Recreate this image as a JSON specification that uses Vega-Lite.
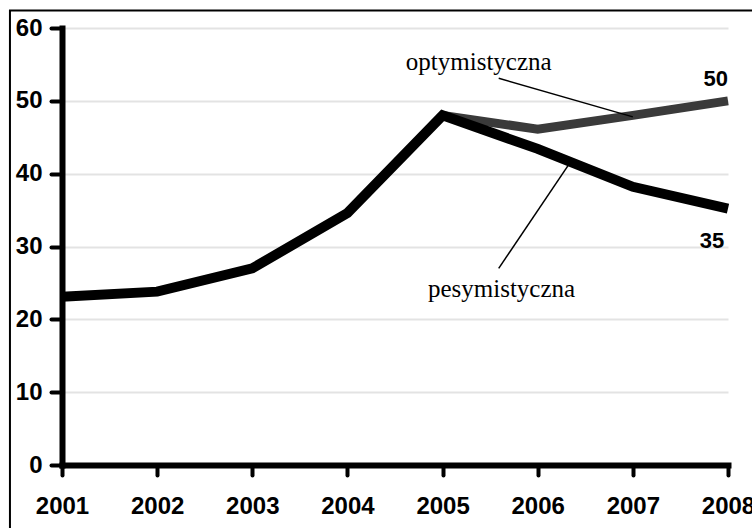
{
  "$schema": "https://vega.github.io/schema/vega-lite/v6.json",
  "width": 666,
  "height": 437,
  "autosize": {"type": "none"},
  "padding": {"left": 62, "top": 28, "right": 24, "bottom": 63},
  "background": "white",
  "config": {"view": {"stroke": null}, "font": "Liberation Sans"},
  "datasets": {
    "series": [
      {"year": 2001, "value": 23.1, "scenario": "pesymistyczna"},
      {"year": 2002, "value": 23.8, "scenario": "pesymistyczna"},
      {"year": 2003, "value": 27.0, "scenario": "pesymistyczna"},
      {"year": 2004, "value": 34.6, "scenario": "pesymistyczna"},
      {"year": 2005, "value": 48.0, "scenario": "pesymistyczna"},
      {"year": 2006, "value": 43.4, "scenario": "pesymistyczna"},
      {"year": 2007, "value": 38.2, "scenario": "pesymistyczna"},
      {"year": 2008, "value": 35.2, "scenario": "pesymistyczna"},
      {"year": 2005, "value": 48.0, "scenario": "optymistyczna"},
      {"year": 2006, "value": 46.1, "scenario": "optymistyczna"},
      {"year": 2007, "value": 48.0, "scenario": "optymistyczna"},
      {"year": 2008, "value": 50.0, "scenario": "optymistyczna"}
    ],
    "names": [
      {"year": 2005.38, "value": 54.3, "label": "optymistyczna"},
      {"year": 2005.62, "value": 23.1, "label": "pesymistyczna"}
    ],
    "leaders": [
      {"year": 2005.59, "value": 53.1, "year2": 2007.0, "value2": 47.8},
      {"year": 2005.59, "value": 27.0, "year2": 2006.37, "value2": 42.1}
    ],
    "ends": [
      {"year": 2008, "value": 52.0, "label": "50"},
      {"year": 2007.96, "value": 29.8, "label": "35"}
    ]
  },
  "layer": [
    {
      "data": {"name": "series"},
      "transform": [{"filter": "datum.scenario === 'optymistyczna'"}],
      "mark": {"type": "line", "color": "#3a3a3a", "strokeWidth": 9},
      "encoding": {
        "x": {
          "field": "year", "type": "quantitative",
          "scale": {"domain": [2001, 2008], "nice": false, "zero": false},
          "axis": {
            "title": null, "values": [2001, 2002, 2003, 2004, 2005, 2006, 2007, 2008],
            "format": "d", "grid": false,
            "domainColor": "black", "domainWidth": 6, "domainCap": "square",
            "tickColor": "black", "tickWidth": 4, "tickSize": 10, "tickCap": "round",
            "labelFontSize": 24, "labelFontWeight": "bold", "labelColor": "black",
            "labelPadding": 19, "labelFlush": false, "labelOverlap": false
          }
        },
        "y": {
          "field": "value", "type": "quantitative",
          "scale": {"domain": [0, 60], "nice": false},
          "axis": {
            "title": null, "values": [0, 10, 20, 30, 40, 50, 60],
            "grid": true, "gridColor": "#e3e3e3", "gridWidth": 2,
            "domainColor": "black", "domainWidth": 6, "domainCap": "square",
            "tickColor": "black", "tickWidth": 4, "tickSize": 11, "tickCap": "round",
            "labelFontSize": 24, "labelFontWeight": "bold", "labelColor": "black",
            "labelPadding": 9
          }
        }
      }
    },
    {
      "data": {"name": "series"},
      "transform": [{"filter": "datum.scenario === 'pesymistyczna'"}],
      "mark": {"type": "line", "color": "black", "strokeWidth": 10},
      "encoding": {
        "x": {"field": "year", "type": "quantitative"},
        "y": {"field": "value", "type": "quantitative"}
      }
    },
    {
      "data": {"name": "leaders"},
      "mark": {"type": "rule", "color": "black", "strokeWidth": 1.5},
      "encoding": {
        "x": {"field": "year", "type": "quantitative"},
        "y": {"field": "value", "type": "quantitative"},
        "x2": {"field": "year2"},
        "y2": {"field": "value2"}
      }
    },
    {
      "data": {"name": "names"},
      "mark": {"type": "text", "font": "Liberation Serif", "fontSize": 25, "align": "center", "baseline": "alphabetic", "color": "black"},
      "encoding": {
        "x": {"field": "year", "type": "quantitative"},
        "y": {"field": "value", "type": "quantitative"},
        "text": {"field": "label"}
      }
    },
    {
      "data": {"name": "ends"},
      "mark": {"type": "text", "font": "Liberation Sans", "fontWeight": "bold", "fontSize": 22, "align": "right", "baseline": "alphabetic", "color": "black"},
      "encoding": {
        "x": {"field": "year", "type": "quantitative"},
        "y": {"field": "value", "type": "quantitative"},
        "text": {"field": "label"}
      }
    },
    {
      "data": {"values": [{}]},
      "mark": {"type": "rect", "filled": false, "color": "black", "strokeWidth": 2},
      "encoding": {
        "x": {"datum": 2000.453, "type": "quantitative"},
        "x2": {"datum": 2009.5},
        "y": {"datum": 62.4, "type": "quantitative"},
        "y2": {"datum": -12}
      }
    }
  ]
}
